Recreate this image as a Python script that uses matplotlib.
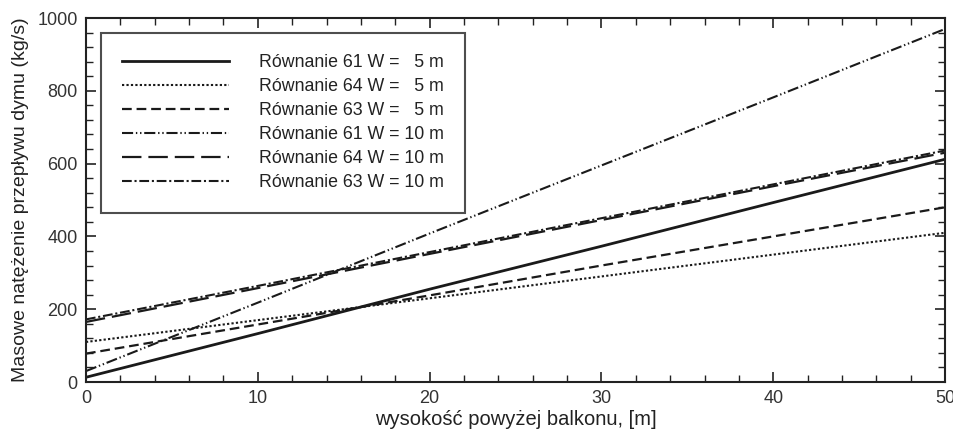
import matplotlib
matplotlib.use("Agg")
import matplotlib.pyplot as plt
from matplotlib.ticker import MultipleLocator

plt.rcParams['font.family'] = ['Liberation Sans', 'DejaVu Sans']
plt.rcParams['lines.scale_dashes'] = False

# wysokość powyżej balkonu [m]
heights = [0, 10, 20, 30, 40, 50]

# masowe natężenie przepływu dymu [kg/s]
eq61_w5 = [13, 133, 255, 373, 493, 612]
eq64_w5 = [110, 170, 230, 290, 350, 410]
eq63_w5 = [78, 158, 238, 320, 400, 480]
eq61_w10 = [30, 218, 408, 595, 782, 970]
eq64_w10 = [165, 258, 352, 445, 538, 630]
eq63_w10 = [172, 264, 357, 450, 543, 636]

labels = [
    "Równanie 61 W = \u20075 m",
    "Równanie 64 W = \u20075 m",
    "Równanie 63 W = \u20075 m",
    "Równanie 61 W = 10 m",
    "Równanie 64 W = 10 m",
    "Równanie 63 W = 10 m",
]

series = [eq61_w5, eq64_w5, eq63_w5, eq61_w10, eq64_w10, eq63_w10]
dashes = [
    "-",
    (0, (1.6, 1.6)),
    (0, (7, 3.5)),
    (0, (8, 2, 1, 2, 1, 2)),
    (0, (14, 5)),
    (0, (7, 2, 1.5, 2)),
]
widths = [2.0, 1.5, 1.6, 1.5, 1.6, 1.5]

fig = plt.figure(figsize=(9.54, 4.3), dpi=100)
ax = fig.add_axes([0.0901, 0.1116, 0.9006, 0.8465])

for vals, ls, lw, lab in zip(series, dashes, widths, labels):
    ax.plot(heights, vals, color="#1a1a1a", lw=lw, linestyle=ls, label=lab)

ax.set_xlim(0, 50)
ax.set_ylim(0, 1000)
ax.xaxis.set_major_locator(MultipleLocator(10))
ax.xaxis.set_minor_locator(MultipleLocator(2))
ax.yaxis.set_major_locator(MultipleLocator(200))
ax.yaxis.set_minor_locator(MultipleLocator(40))
ax.tick_params(which="both", direction="in", top=True, right=True,
               color="#222222", labelsize=13, labelcolor="#333333")
ax.tick_params(which="major", length=7, width=1.2, pad=6)
ax.tick_params(which="minor", length=5, width=1.0)
for s in ax.spines.values():
    s.set_linewidth(1.5)
    s.set_color("#222222")

ax.set_xlabel("wysokość powyżej balkonu, [m]", fontsize=14.5, color="#222222", labelpad=2)
ax.set_ylabel("Masowe natężenie przepływu dymu (kg/s)", fontsize=14, color="#222222", labelpad=6)

leg = ax.legend(loc="upper left", bbox_to_anchor=(0.0175, 0.96), borderaxespad=0,
                fancybox=False, frameon=True, handlelength=6.0, handletextpad=1.7,
                labelspacing=0.4, borderpad=1.2,
                prop={"family": ["Liberation Sans", "DejaVu Sans"], "size": 12.8})
leg.get_frame().set_edgecolor("#222222")
leg.get_frame().set_linewidth(1.5)
for t in leg.get_texts():
    t.set_color("#222222")

fig.savefig("out.png", dpi=100)
